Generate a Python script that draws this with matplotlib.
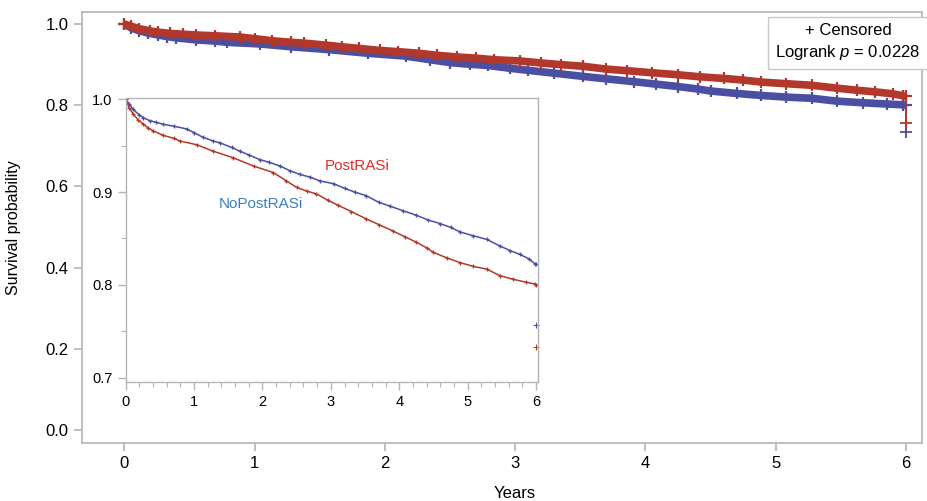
import matplotlib
matplotlib.use("Agg")
import matplotlib.pyplot as plt
from matplotlib.ticker import MultipleLocator

plt.rcParams["font.family"] = ["Liberation Sans", "DejaVu Sans"]
plt.rcParams["mathtext.fontset"] = "custom"
plt.rcParams["mathtext.it"] = "Liberation Sans:italic"

# =========================
# DATA
# =========================
# upper curve (PostRASi)
t_hi = [0, 0.05, 0.11, 0.2, 0.26, 0.35, 0.45, 0.55, 0.7, 0.89, 1.0, 1.13, 1.28, 1.38,
        1.55, 1.67, 1.8, 1.96, 2.1, 2.26, 2.4, 2.55, 2.7, 2.84, 3.04, 3.2, 3.35, 3.52,
        3.7, 3.86, 4.05, 4.25, 4.42, 4.6, 4.75, 4.89, 5.08, 5.28, 5.47, 5.62, 5.76,
        5.9, 5.98, 6.0]
s_hi = [1.0, 0.995, 0.989, 0.983, 0.980, 0.977, 0.975, 0.973, 0.971, 0.968, 0.964,
        0.959, 0.955, 0.953, 0.948, 0.944, 0.940, 0.935, 0.932, 0.928, 0.923, 0.919,
        0.916, 0.912, 0.909, 0.904, 0.900, 0.896, 0.889, 0.885, 0.880, 0.875, 0.870,
        0.866, 0.862, 0.857, 0.853, 0.849, 0.842, 0.837, 0.833, 0.828, 0.823, 0.822]
end_hi = 0.757

# lower curve (NoPostRASi)
t_lo = [0, 0.05, 0.11, 0.18, 0.26, 0.33, 0.40, 0.55, 0.7, 0.79, 1.04, 1.28, 1.57,
        1.87, 2.16, 2.35, 2.50, 2.65, 2.79, 2.96, 3.1, 3.3, 3.52, 3.7, 3.91, 4.08,
        4.25, 4.4, 4.5, 4.7, 4.89, 5.08, 5.28, 5.47, 5.67, 5.85, 5.98, 6.0]
s_lo = [1.0, 0.991, 0.984, 0.978, 0.973, 0.969, 0.966, 0.961, 0.958, 0.955, 0.951,
        0.944, 0.937, 0.928, 0.921, 0.912, 0.905, 0.901, 0.898, 0.891, 0.886, 0.879,
        0.871, 0.865, 0.858, 0.852, 0.846, 0.840, 0.835, 0.829, 0.824, 0.820, 0.817,
        0.810, 0.806, 0.803, 0.801, 0.800]
end_lo = 0.733

RED = "#b3382c"
BLUE = "#4a4fa2"
GRAY = "#b4b4b4"

fig = plt.figure(figsize=(9.27, 5.01), dpi=100)

# =========================
# MAIN PLOT
# =========================
ax = fig.add_axes([0.0881, 0.1152, 0.9065, 0.8611])
for t, s, end, c in [(t_lo, s_lo, end_lo, BLUE), (t_hi, s_hi, end_hi, RED)]:
    ax.plot(t, s, color=c, lw=5.5, solid_capstyle="butt")
    ax.plot(t, s, "+", color=c, ms=9, mew=1.6)
    ax.plot([t[-1], t[-1]], [s[-1], end], color=c, lw=1.3)
    ax.plot([t[-1]], [end], "+", color=c, ms=9, mew=1.3)

ax.set_xlim(-0.327, 6.122)
ax.set_ylim(-0.033, 1.030)
ax.set_xticks(range(7))
ax.set_yticks([0.0, 0.2, 0.4, 0.6, 0.8, 1.0])
ax.set_yticklabels(["0.0", "0.2", "0.4", "0.6", "0.8", "1.0"])
for sp in ax.spines.values():
    sp.set_color(GRAY)
    sp.set_linewidth(1.2)
ax.tick_params(colors=GRAY, labelcolor="black", labelsize=12, length=6, width=1.2)
ax.set_xlabel("Years", fontsize=12)
ax.xaxis.set_label_coords(0.515, -0.099)
ax.set_ylabel("Survival probability", fontsize=11.5)
ax.yaxis.set_label_coords(-0.072, 0.5)

ax.text(6.11, 0.955, "+ Censored\nLogrank $p$ = 0.0228", fontsize=12,
        ha="right", va="center", multialignment="center", linespacing=1.35,
        bbox=dict(boxstyle="square,pad=0.45", fc="white", ec="#c8c8c8", lw=1.0))

# =========================
# INSET
# =========================
ax2 = fig.add_axes([0.1356, 0.2381, 0.4448, 0.5657])
ax2.set_facecolor("white")
for t, s, c in [(t_hi, s_hi, BLUE), (t_lo, s_lo, RED)]:
    ax2.plot(t, s, color=c, lw=1.1)
    ax2.plot(t, s, "+", color=c, ms=3.5, mew=0.9)
ax2.plot([6.0], [end_hi], "+", color=BLUE, ms=4, mew=0.8, clip_on=False)
ax2.plot([6.0], [end_lo], "+", color=RED, ms=4, mew=0.8, clip_on=False)

ax2.set_xlim(0, 6.03)
ax2.set_ylim(0.6957, 1.001)
ax2.set_xticks(range(7))
ax2.xaxis.set_minor_locator(MultipleLocator(0.2))
ax2.set_yticks([0.7, 0.8, 0.9, 1.0])
ax2.set_yticklabels(["0.7", "0.8", "0.9", "1.0"])
ax2.yaxis.set_minor_locator(MultipleLocator(0.05))
for sp in ax2.spines.values():
    sp.set_color(GRAY)
    sp.set_linewidth(1.0)
ax2.tick_params(which="major", colors=GRAY, labelcolor="black", labelsize=10.5,
                length=6, width=1.0)
ax2.tick_params(which="minor", colors=GRAY, length=3.5, width=0.8)

ax2.text(3.38, 0.928, "PostRASi", color="#e42a2a", fontsize=11, ha="center", va="center")
ax2.text(1.97, 0.887, "NoPostRASi", color="#3a7fc4", fontsize=11, ha="center", va="center")

plt.savefig("out.png", dpi=100)
